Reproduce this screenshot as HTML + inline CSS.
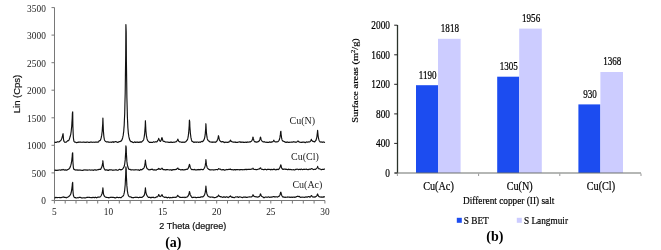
<!DOCTYPE html>
<html><head><meta charset="utf-8"><title>Figure</title>
<style>
html,body{margin:0;padding:0;background:#fff;}
body{width:661px;height:250px;overflow:hidden;}
svg{display:block;}
text{fill:#222;}
.ta{font-family:"Liberation Serif",serif;font-size:9.9px;}
.tl{font-family:"Liberation Serif",serif;font-size:10px;}
.te{font-family:"Liberation Serif",serif;font-size:10.4px;fill:#000;stroke:#000;stroke-width:0.2px;}
.sa{font-family:"Liberation Sans",sans-serif;font-size:9px;fill:#111;stroke:#111;stroke-width:0.2px;}
.cap{font-family:"Liberation Serif",serif;font-size:14px;font-weight:bold;fill:#000;}
.tb{font-family:"Liberation Serif",serif;font-size:12.6px;fill:#000;stroke:#000;stroke-width:0.25px;}
.tc{font-family:"Liberation Serif",serif;font-size:12.6px;fill:#000;stroke:#000;stroke-width:0.2px;}
.td{font-family:"Liberation Serif",serif;font-size:11px;fill:#000;stroke:#000;stroke-width:0.2px;}
</style></head><body>
<svg width="661" height="250" viewBox="0 0 661 250">
<rect width="661" height="250" fill="#fff"/>
<path d="M54.5 7.5V200.5H325" fill="none" stroke="#787878" stroke-width="1"/>
<path d="M51.5 200.4H54.5" stroke="#787878" stroke-width="1"/>
<path d="M51.5 172.9H54.5" stroke="#787878" stroke-width="1"/>
<path d="M51.5 145.3H54.5" stroke="#787878" stroke-width="1"/>
<path d="M51.5 117.8H54.5" stroke="#787878" stroke-width="1"/>
<path d="M51.5 90.2H54.5" stroke="#787878" stroke-width="1"/>
<path d="M51.5 62.7H54.5" stroke="#787878" stroke-width="1"/>
<path d="M51.5 35.1H54.5" stroke="#787878" stroke-width="1"/>
<path d="M51.5 7.6H54.5" stroke="#787878" stroke-width="1"/>
<path d="M54.4 200.5V203.5" stroke="#787878" stroke-width="1"/>
<path d="M65.2 200.5V203.5" stroke="#787878" stroke-width="1"/>
<path d="M76.0 200.5V203.5" stroke="#787878" stroke-width="1"/>
<path d="M86.9 200.5V203.5" stroke="#787878" stroke-width="1"/>
<path d="M97.7 200.5V203.5" stroke="#787878" stroke-width="1"/>
<path d="M108.5 200.5V203.5" stroke="#787878" stroke-width="1"/>
<path d="M119.3 200.5V203.5" stroke="#787878" stroke-width="1"/>
<path d="M130.1 200.5V203.5" stroke="#787878" stroke-width="1"/>
<path d="M141.0 200.5V203.5" stroke="#787878" stroke-width="1"/>
<path d="M151.8 200.5V203.5" stroke="#787878" stroke-width="1"/>
<path d="M162.6 200.5V203.5" stroke="#787878" stroke-width="1"/>
<path d="M173.4 200.5V203.5" stroke="#787878" stroke-width="1"/>
<path d="M184.2 200.5V203.5" stroke="#787878" stroke-width="1"/>
<path d="M195.1 200.5V203.5" stroke="#787878" stroke-width="1"/>
<path d="M205.9 200.5V203.5" stroke="#787878" stroke-width="1"/>
<path d="M216.7 200.5V203.5" stroke="#787878" stroke-width="1"/>
<path d="M227.5 200.5V203.5" stroke="#787878" stroke-width="1"/>
<path d="M238.3 200.5V203.5" stroke="#787878" stroke-width="1"/>
<path d="M249.2 200.5V203.5" stroke="#787878" stroke-width="1"/>
<path d="M260.0 200.5V203.5" stroke="#787878" stroke-width="1"/>
<path d="M270.8 200.5V203.5" stroke="#787878" stroke-width="1"/>
<path d="M281.6 200.5V203.5" stroke="#787878" stroke-width="1"/>
<path d="M292.4 200.5V203.5" stroke="#787878" stroke-width="1"/>
<path d="M303.3 200.5V203.5" stroke="#787878" stroke-width="1"/>
<path d="M314.1 200.5V203.5" stroke="#787878" stroke-width="1"/>
<path d="M324.9 200.5V203.5" stroke="#787878" stroke-width="1"/>
<polyline points="54.4,142.0 54.6,142.1 54.9,142.1 55.1,142.3 55.4,142.4 55.6,142.4 55.9,142.2 56.1,142.2 56.4,142.3 56.6,142.2 56.9,142.1 57.1,141.9 57.4,141.8 57.6,141.7 57.9,141.8 58.1,141.9 58.4,141.9 58.6,142.0 58.9,142.0 59.1,141.9 59.4,141.5 59.6,141.4 59.9,141.3 60.1,141.0 60.4,140.8 60.6,140.7 60.9,140.4 61.1,140.0 61.4,139.4 61.6,138.8 61.9,138.2 62.1,137.4 62.4,136.5 62.6,135.5 62.9,134.1 63.1,133.7 63.4,138.0 63.6,140.1 63.9,141.1 64.2,141.6 64.4,141.8 64.7,142.2 64.9,142.3 65.2,142.2 65.4,142.3 65.7,142.2 65.9,142.2 66.2,142.1 66.4,141.9 66.7,141.7 66.9,141.5 67.2,141.1 67.4,140.8 67.7,140.8 67.9,140.6 68.2,140.7 68.4,140.6 68.7,140.6 68.9,140.0 69.2,139.6 69.4,138.9 69.7,138.1 69.9,137.3 70.2,136.6 70.4,135.7 70.7,134.6 70.9,133.3 71.2,131.3 71.4,129.2 71.7,126.5 71.9,123.0 72.2,118.6 72.4,113.2 72.7,111.8 72.9,126.5 73.2,133.9 73.4,138.0 73.7,139.9 73.9,141.1 74.2,141.7 74.4,141.9 74.7,142.0 74.9,142.2 75.2,142.0 75.4,142.1 75.7,142.2 75.9,142.4 76.2,142.5 76.4,142.7 76.7,142.7 76.9,142.7 77.2,142.4 77.4,142.4 77.7,142.4 77.9,142.3 78.2,142.2 78.4,142.3 78.7,142.1 78.9,142.0 79.2,142.1 79.4,142.1 79.7,142.0 79.9,142.1 80.2,142.1 80.4,142.1 80.7,142.1 80.9,142.1 81.2,142.2 81.4,142.3 81.7,142.2 81.9,142.2 82.2,142.2 82.4,142.3 82.7,142.2 82.9,142.1 83.2,142.0 83.4,142.2 83.7,142.0 83.9,142.1 84.2,142.1 84.4,142.2 84.7,142.3 84.9,142.4 85.2,142.3 85.4,142.4 85.7,142.3 85.9,142.2 86.2,142.3 86.4,142.3 86.7,142.1 86.9,142.1 87.2,142.1 87.4,142.0 87.7,142.0 87.9,142.2 88.2,142.2 88.4,142.2 88.7,142.4 88.9,142.4 89.2,142.4 89.4,142.5 89.7,142.3 89.9,142.2 90.2,142.1 90.4,142.0 90.7,142.1 90.9,142.1 91.2,142.0 91.4,142.1 91.7,142.1 91.9,142.2 92.2,142.2 92.4,142.3 92.7,142.2 92.9,142.3 93.2,142.2 93.4,142.2 93.7,142.1 93.9,142.2 94.2,142.2 94.4,142.2 94.7,142.3 94.9,142.1 95.2,142.0 95.4,142.2 95.7,142.0 95.9,142.0 96.2,142.2 96.4,142.1 96.7,142.0 96.9,142.1 97.2,142.0 97.4,142.0 97.7,142.2 97.9,142.2 98.2,142.1 98.4,141.9 98.7,141.7 98.9,141.2 99.2,140.9 99.4,140.7 99.7,140.6 99.9,140.6 100.2,140.5 100.4,140.2 100.7,139.6 100.9,138.8 101.2,137.8 101.4,136.7 101.7,135.4 101.9,133.6 102.2,131.3 102.4,128.1 102.7,124.0 102.9,118.0 103.2,125.8 103.4,131.0 103.7,134.5 103.9,136.8 104.2,138.5 104.4,139.7 104.7,140.4 104.9,140.8 105.2,141.0 105.4,141.2 105.7,141.4 105.9,141.5 106.2,141.7 106.4,142.0 106.7,142.0 106.9,142.0 107.2,141.9 107.4,141.9 107.7,141.9 107.9,141.9 108.2,141.9 108.4,142.1 108.7,142.1 108.9,142.1 109.2,142.2 109.4,142.3 109.7,142.2 109.9,142.2 110.2,142.0 110.4,142.2 110.7,142.2 110.9,142.2 111.2,142.3 111.4,142.3 111.7,142.0 111.9,142.0 112.2,142.1 112.4,141.8 112.7,141.8 112.9,141.9 113.2,141.9 113.4,141.9 113.7,142.3 113.9,142.3 114.2,142.1 114.4,142.0 114.7,142.0 114.9,141.7 115.2,141.5 115.4,141.7 115.7,141.6 115.9,141.6 116.2,141.7 116.4,141.7 116.7,141.9 116.9,142.2 117.2,142.2 117.4,142.3 117.7,142.5 117.9,142.3 118.2,142.3 118.4,142.0 118.7,141.9 118.9,141.8 119.2,141.6 119.4,141.5 119.7,141.6 119.9,141.6 120.2,141.3 120.4,141.5 120.7,141.2 120.9,141.1 121.2,141.0 121.4,140.8 121.7,140.4 121.9,139.9 122.2,139.3 122.4,138.5 122.7,137.7 122.9,136.5 123.2,135.4 123.4,133.7 123.7,131.6 123.9,128.8 124.2,125.1 124.4,120.0 124.7,113.7 124.9,104.8 125.2,93.0 125.4,77.1 125.7,55.2 125.9,24.5 126.2,32.2 126.4,61.6 126.7,82.7 126.9,97.9 127.2,109.1 127.4,117.3 127.7,123.6 127.9,128.0 128.2,131.4 128.4,133.7 128.7,135.4 128.9,136.9 129.2,138.1 129.4,139.0 129.7,139.7 129.9,140.4 130.2,140.8 130.4,141.1 130.7,141.3 130.9,141.7 131.2,141.6 131.4,141.6 131.7,141.6 131.9,141.8 132.2,141.8 132.4,142.0 132.7,142.3 132.9,142.3 133.2,142.5 133.4,142.5 133.7,142.6 133.9,142.2 134.2,142.2 134.4,142.0 134.7,141.9 134.9,141.9 135.2,142.3 135.4,142.4 135.7,142.4 135.9,142.5 136.2,142.3 136.4,142.0 136.7,142.1 136.9,142.1 137.2,142.0 137.4,142.1 137.7,142.3 137.9,142.2 138.2,142.3 138.4,142.4 138.7,142.5 138.9,142.2 139.2,142.4 139.4,142.3 139.7,142.2 139.9,141.9 140.2,142.1 140.4,141.8 140.7,142.1 140.9,142.2 141.2,142.2 141.4,142.1 141.7,142.0 141.9,141.6 142.2,141.4 142.4,141.2 142.7,140.8 142.9,140.7 143.2,140.5 143.4,140.1 143.7,139.4 143.9,138.5 144.2,137.0 144.4,135.4 144.7,133.3 144.9,130.3 145.2,126.3 145.4,120.7 145.7,126.5 145.9,130.5 146.2,133.6 146.4,135.6 146.7,137.2 146.9,138.2 147.2,139.3 147.4,139.9 147.7,140.5 147.9,140.9 148.2,141.2 148.4,141.4 148.7,141.7 148.9,141.9 149.2,142.0 149.4,142.4 149.7,142.3 149.9,142.4 150.2,142.4 150.4,142.5 150.7,142.3 150.9,142.4 151.2,142.3 151.4,142.3 151.7,142.3 151.9,142.5 152.2,142.5 152.4,142.5 152.7,142.4 152.9,142.2 153.2,141.9 153.4,141.8 153.7,141.9 153.9,142.0 154.2,142.1 154.4,142.0 154.7,142.1 154.9,142.0 155.2,141.9 155.4,141.8 155.7,141.8 155.9,141.7 156.2,141.8 156.4,141.8 156.7,141.9 156.9,141.8 157.2,141.5 157.4,141.1 157.7,140.7 157.9,140.3 158.2,139.8 158.4,139.3 158.7,138.4 158.9,138.9 159.2,139.7 159.4,140.4 159.7,140.7 159.9,140.9 160.2,141.3 160.4,141.3 160.7,141.0 160.9,140.6 161.2,140.2 161.4,139.4 161.7,138.5 161.9,137.6 162.2,138.0 162.4,139.1 162.7,140.0 162.9,140.8 163.2,141.1 163.4,141.3 163.7,141.4 163.9,141.4 164.2,141.5 164.4,141.4 164.7,141.5 164.9,141.8 165.2,141.9 165.4,141.9 165.7,142.1 165.9,142.2 166.2,142.0 166.4,142.0 166.7,142.0 166.9,142.0 167.2,142.0 167.4,142.1 167.7,142.0 167.9,142.0 168.2,142.2 168.4,142.3 168.7,142.4 168.9,142.5 169.2,142.3 169.4,142.3 169.7,142.3 169.9,142.3 170.2,142.3 170.4,142.3 170.7,142.1 170.9,142.2 171.2,142.1 171.4,142.1 171.7,142.3 171.9,142.5 172.2,142.5 172.4,142.5 172.7,142.3 172.9,142.2 173.2,142.1 173.4,142.2 173.7,142.2 173.9,142.3 174.2,142.3 174.4,142.2 174.7,142.0 174.9,142.0 175.2,142.0 175.4,141.9 175.7,141.8 175.9,141.9 176.2,141.8 176.4,141.4 176.7,141.3 176.9,141.0 177.2,140.5 177.4,140.2 177.7,139.4 177.9,139.2 178.2,140.1 178.4,140.6 178.7,141.1 178.9,141.3 179.2,141.6 179.4,141.7 179.7,141.9 179.9,141.8 180.2,141.9 180.4,142.0 180.7,142.0 180.9,142.0 181.2,142.1 181.4,142.2 181.7,142.3 181.9,142.4 182.2,142.3 182.4,142.3 182.7,142.1 182.9,142.0 183.2,142.0 183.4,142.2 183.7,142.3 183.9,142.3 184.2,142.4 184.4,142.3 184.7,142.0 184.9,142.0 185.2,142.1 185.4,142.0 185.7,141.6 185.9,141.6 186.2,141.3 186.4,141.0 186.7,140.7 186.9,140.5 187.2,140.1 187.4,139.6 187.7,138.9 187.9,138.0 188.2,136.7 188.4,134.9 188.7,132.7 188.9,129.7 189.2,125.6 189.4,120.0 189.7,121.6 189.9,127.0 190.2,130.9 190.4,133.7 190.7,135.7 190.9,137.4 191.2,138.7 191.4,139.7 191.7,140.5 191.9,141.2 192.2,141.4 192.4,141.5 192.7,141.6 192.9,141.8 193.2,141.9 193.4,142.1 193.7,142.1 193.9,142.3 194.2,142.3 194.4,142.1 194.7,142.0 194.9,142.2 195.2,142.0 195.4,142.1 195.7,142.1 195.9,142.0 196.2,142.1 196.4,142.3 196.7,142.2 196.9,142.1 197.2,142.1 197.4,142.0 197.7,142.0 197.9,142.1 198.2,142.1 198.4,142.2 198.7,142.4 198.9,142.3 199.2,142.2 199.4,142.1 199.7,142.2 199.9,142.0 200.2,142.1 200.4,142.2 200.7,142.3 200.9,142.0 201.2,141.7 201.4,141.6 201.7,141.4 201.9,141.3 202.2,141.4 202.4,141.6 202.7,141.6 202.9,141.3 203.2,141.1 203.4,140.6 203.7,140.4 203.9,139.7 204.2,139.3 204.4,138.6 204.7,137.6 204.9,136.4 205.2,134.7 205.4,132.1 205.7,128.6 205.9,123.7 206.2,128.7 206.4,132.2 206.7,134.9 206.9,136.7 207.2,138.2 207.4,139.0 207.7,139.7 207.9,140.2 208.2,140.5 208.4,140.7 208.7,140.9 208.9,141.1 209.2,141.3 209.4,141.6 209.7,141.8 209.9,141.9 210.2,141.9 210.4,142.0 210.7,142.0 210.9,142.1 211.2,142.0 211.4,142.2 211.7,142.1 211.9,142.2 212.2,142.1 212.4,142.3 212.7,142.1 212.9,142.1 213.2,142.1 213.4,142.1 213.7,142.1 213.9,142.2 214.2,142.1 214.4,142.1 214.7,142.1 214.9,142.0 215.2,142.1 215.4,142.3 215.7,142.1 215.9,141.9 216.2,141.9 216.4,141.7 216.7,141.2 216.9,140.9 217.2,140.7 217.4,139.8 217.7,139.2 217.9,138.5 218.2,137.3 218.4,135.7 218.7,136.3 218.9,138.0 219.2,139.0 219.4,140.0 219.7,140.3 219.9,140.8 220.2,140.9 220.4,141.3 220.7,141.3 220.9,141.7 221.2,141.8 221.4,141.9 221.7,141.9 221.9,142.0 222.2,141.5 222.4,141.6 222.7,141.6 222.9,141.6 223.2,141.6 223.4,142.1 223.7,142.0 223.9,142.1 224.2,142.3 224.4,142.6 224.7,142.4 224.9,142.5 225.2,142.5 225.4,142.2 225.7,142.1 225.9,142.1 226.2,142.3 226.4,142.2 226.7,142.2 226.9,142.2 227.2,142.4 227.4,142.3 227.7,142.2 227.9,142.3 228.2,142.3 228.4,142.1 228.7,141.9 228.9,142.0 229.2,141.9 229.4,141.8 229.7,141.6 229.9,141.3 230.2,140.8 230.4,140.1 230.7,140.5 230.9,140.9 231.2,141.3 231.4,141.5 231.7,141.6 231.9,141.7 232.2,141.8 232.4,141.9 232.7,142.0 232.9,142.0 233.2,142.1 233.4,142.0 233.7,142.2 233.9,142.2 234.2,142.1 234.4,142.2 234.7,142.1 234.9,142.0 235.2,142.0 235.4,142.3 235.7,142.1 235.9,142.3 236.2,142.4 236.4,142.3 236.7,142.3 236.9,142.4 237.2,142.5 237.4,142.4 237.7,142.4 237.9,142.3 238.2,142.1 238.4,142.0 238.7,142.0 238.9,142.1 239.2,141.9 239.4,141.9 239.7,142.0 239.9,142.0 240.2,141.8 240.4,142.2 240.7,142.3 240.9,142.1 241.2,142.2 241.4,142.3 241.7,142.0 241.9,142.0 242.2,142.0 242.4,142.0 242.7,142.2 242.9,142.3 243.2,142.2 243.4,142.4 243.7,142.2 243.9,142.3 244.2,142.4 244.4,142.5 244.7,142.4 244.9,142.4 245.2,142.2 245.4,142.2 245.7,142.1 245.9,142.1 246.2,142.3 246.4,142.5 246.7,142.3 246.9,142.2 247.2,142.3 247.4,142.1 247.7,141.9 247.9,142.0 248.2,142.0 248.4,142.1 248.7,142.2 248.9,142.2 249.2,142.0 249.4,142.0 249.7,141.8 249.9,141.8 250.2,141.7 250.4,141.9 250.7,141.7 250.9,141.6 251.2,141.4 251.4,141.2 251.7,140.9 251.9,140.5 252.2,140.1 252.4,139.4 252.7,138.4 252.9,137.1 253.2,137.6 253.4,138.9 253.7,139.7 253.9,140.5 254.2,141.1 254.4,141.3 254.7,141.6 254.9,141.8 255.2,141.8 255.4,141.7 255.7,141.9 255.9,141.8 256.1,142.1 256.4,142.1 256.6,142.2 256.9,142.2 257.1,141.9 257.4,141.8 257.6,141.9 257.9,141.8 258.1,141.6 258.4,141.7 258.6,141.6 258.9,141.2 259.1,140.8 259.4,140.7 259.6,140.2 259.9,139.4 260.1,138.5 260.4,137.1 260.6,137.1 260.9,138.5 261.1,139.4 261.4,140.1 261.6,140.5 261.9,141.0 262.1,141.0 262.4,141.4 262.6,141.6 262.9,141.7 263.1,141.8 263.4,142.0 263.6,142.0 263.9,141.8 264.1,141.8 264.4,141.8 264.6,141.7 264.9,141.9 265.1,142.1 265.4,142.2 265.6,142.2 265.9,142.3 266.1,142.1 266.4,142.2 266.6,142.3 266.9,142.4 267.1,142.2 267.4,142.4 267.6,142.3 267.9,142.3 268.1,142.3 268.4,142.5 268.6,142.4 268.9,142.3 269.1,142.1 269.4,142.1 269.6,141.8 269.9,141.9 270.1,142.2 270.4,142.3 270.6,142.2 270.9,142.3 271.1,142.3 271.4,142.0 271.6,141.8 271.9,141.9 272.1,141.9 272.4,141.9 272.6,141.8 272.9,141.7 273.1,141.4 273.4,141.0 273.6,140.3 273.9,140.2 274.1,140.6 274.4,141.1 274.6,141.4 274.9,141.7 275.1,141.9 275.4,142.0 275.6,141.8 275.9,141.8 276.1,141.9 276.4,141.9 276.6,141.8 276.9,141.9 277.1,141.9 277.4,141.8 277.6,141.7 277.9,141.6 278.1,141.4 278.4,141.3 278.6,140.9 278.9,140.6 279.1,140.2 279.4,139.6 279.6,138.7 279.9,137.7 280.1,136.2 280.4,134.4 280.6,131.8 280.9,131.3 281.1,134.3 281.4,136.4 281.6,137.9 281.9,139.2 282.1,139.9 282.4,140.5 282.6,140.9 282.9,141.0 283.1,141.0 283.4,141.2 283.6,141.3 283.9,141.5 284.1,141.6 284.4,141.8 284.6,141.7 284.9,141.9 285.1,141.9 285.4,142.2 285.6,142.2 285.9,142.5 286.1,142.4 286.4,142.4 286.6,142.0 286.9,142.0 287.1,141.9 287.4,142.1 287.6,142.0 287.9,142.3 288.1,142.3 288.4,142.4 288.6,142.3 288.9,142.4 289.1,142.2 289.4,142.3 289.6,142.2 289.9,142.3 290.1,142.2 290.4,142.2 290.6,142.2 290.9,142.1 291.1,142.1 291.4,142.1 291.6,142.1 291.9,142.1 292.1,142.1 292.4,142.0 292.6,142.1 292.9,142.0 293.1,141.8 293.4,141.9 293.6,141.9 293.9,141.6 294.1,141.9 294.4,142.0 294.6,142.0 294.9,142.1 295.1,142.2 295.4,142.1 295.6,142.2 295.9,142.3 296.1,142.3 296.4,142.2 296.6,142.1 296.9,141.9 297.1,141.7 297.4,141.4 297.6,141.2 297.9,141.0 298.1,141.1 298.4,141.3 298.6,141.6 298.9,141.9 299.1,141.9 299.4,142.0 299.6,142.1 299.9,142.3 300.1,142.2 300.4,142.2 300.6,142.3 300.9,142.3 301.1,142.3 301.4,142.4 301.6,142.3 301.9,142.2 302.1,142.3 302.4,142.1 302.6,142.2 302.9,142.3 303.1,142.2 303.4,142.0 303.6,142.1 303.9,142.1 304.1,142.0 304.4,142.2 304.6,142.4 304.9,142.5 305.1,142.7 305.4,142.6 305.6,142.4 305.9,142.2 306.1,142.0 306.4,141.8 306.6,142.0 306.9,142.1 307.1,142.2 307.4,142.2 307.6,142.1 307.9,142.0 308.1,141.9 308.4,141.9 308.6,141.9 308.9,142.1 309.1,142.0 309.4,142.0 309.6,141.9 309.9,141.8 310.1,141.4 310.4,141.3 310.6,141.0 310.9,140.6 311.1,140.0 311.4,139.3 311.6,140.0 311.9,140.4 312.1,140.7 312.4,140.9 312.6,141.3 312.9,141.3 313.1,141.3 313.4,141.5 313.6,141.6 313.9,141.6 314.1,141.7 314.4,141.9 314.6,141.6 314.9,141.7 315.1,141.3 315.4,141.1 315.6,140.7 315.9,140.5 316.1,139.7 316.4,139.1 316.6,138.2 316.9,136.8 317.1,135.0 317.4,132.5 317.6,130.4 317.9,133.6 318.1,135.8 318.4,137.5 318.6,138.6 318.9,139.7 319.1,140.2 319.4,140.9 319.6,141.3 319.9,141.8 320.1,141.8 320.4,142.0 320.6,142.0 320.9,142.1 321.1,141.9 321.4,142.0 321.6,142.0 321.9,142.1 322.1,142.2 322.4,142.3 322.6,142.1 322.9,142.2 323.1,142.0 323.4,142.0 323.6,141.9 323.9,142.2 324.1,142.2 324.4,142.4 324.6,142.3 324.9,142.5" fill="none" stroke="#111" stroke-width="1.15" stroke-linejoin="round"/>
<polyline points="54.4,170.0 54.6,170.1 54.9,170.0 55.1,170.0 55.4,170.1 55.6,170.3 55.9,170.3 56.1,170.5 56.4,170.3 56.6,170.4 56.9,170.4 57.1,170.1 57.4,170.2 57.6,170.3 57.9,170.2 58.1,170.2 58.4,170.2 58.6,170.0 58.9,170.1 59.1,170.0 59.4,169.9 59.6,170.0 59.9,170.0 60.1,170.1 60.4,170.1 60.6,170.2 60.9,170.1 61.1,169.9 61.4,169.7 61.6,169.8 61.9,169.8 62.1,169.8 62.4,169.8 62.6,169.8 62.9,169.7 63.1,169.4 63.4,169.6 63.6,169.8 63.9,169.9 64.2,169.9 64.4,170.1 64.7,170.0 64.9,169.9 65.2,169.8 65.4,169.8 65.7,170.1 65.9,169.9 66.2,170.1 66.4,170.1 66.7,170.1 66.9,169.9 67.2,170.0 67.4,169.8 67.7,169.7 67.9,169.5 68.2,169.4 68.4,169.2 68.7,169.1 68.9,168.9 69.2,168.7 69.4,168.3 69.7,168.1 69.9,167.6 70.2,167.1 70.4,166.4 70.7,165.7 70.9,164.8 71.2,163.8 71.4,162.4 71.7,161.0 71.9,159.1 72.2,156.6 72.4,153.4 72.7,152.8 72.9,161.3 73.2,165.5 73.4,167.8 73.7,168.8 73.9,169.4 74.2,169.7 74.4,169.6 74.7,169.5 74.9,169.7 75.2,169.8 75.4,169.9 75.7,170.1 75.9,170.2 76.2,170.0 76.4,170.0 76.7,169.9 76.9,169.9 77.2,169.9 77.4,170.1 77.7,170.2 77.9,170.1 78.2,170.2 78.4,170.2 78.7,170.1 78.9,169.9 79.2,170.0 79.4,170.1 79.7,170.1 79.9,170.0 80.2,170.1 80.4,170.1 80.7,170.0 80.9,170.1 81.2,170.2 81.4,170.2 81.7,170.2 81.9,170.5 82.2,170.4 82.4,170.3 82.7,170.3 82.9,170.4 83.2,170.2 83.4,170.1 83.7,170.0 83.9,169.9 84.2,169.8 84.4,169.9 84.7,170.0 84.9,170.0 85.2,170.1 85.4,170.0 85.7,169.9 85.9,169.9 86.2,169.9 86.4,170.0 86.7,170.1 86.9,170.2 87.2,170.1 87.4,170.2 87.7,170.1 87.9,170.1 88.2,170.0 88.4,170.0 88.7,170.0 88.9,170.0 89.2,169.9 89.4,169.9 89.7,170.0 89.9,170.0 90.2,170.0 90.4,170.1 90.7,170.2 90.9,170.1 91.2,170.2 91.4,170.0 91.7,170.0 91.9,169.9 92.2,169.9 92.4,170.0 92.7,170.2 92.9,170.2 93.2,170.3 93.4,170.3 93.7,170.0 93.9,169.9 94.2,169.9 94.4,169.9 94.7,169.8 94.9,170.0 95.2,169.9 95.4,169.8 95.7,169.8 95.9,170.1 96.2,170.1 96.4,170.1 96.7,170.1 96.9,170.0 97.2,169.8 97.4,169.7 97.7,169.8 97.9,169.7 98.2,169.6 98.4,169.7 98.7,169.6 98.9,169.4 99.2,169.3 99.4,169.3 99.7,169.3 99.9,169.3 100.2,169.4 100.4,169.3 100.7,169.3 100.9,168.7 101.2,168.4 101.4,167.7 101.7,167.3 101.9,166.5 102.2,165.6 102.4,164.4 102.7,162.9 102.9,160.7 103.2,164.0 103.4,166.1 103.7,167.2 103.9,167.9 104.2,168.5 104.4,169.1 104.7,169.4 104.9,169.9 105.2,170.1 105.4,170.2 105.7,169.8 105.9,170.0 106.2,169.9 106.4,169.7 106.7,169.7 106.9,170.1 107.2,169.8 107.4,170.0 107.7,170.3 107.9,170.4 108.2,170.3 108.4,170.4 108.7,170.2 108.9,169.8 109.2,169.7 109.4,169.8 109.7,169.9 109.9,169.8 110.2,169.9 110.4,170.0 110.7,169.8 110.9,169.7 111.2,169.7 111.4,169.8 111.7,169.9 111.9,170.0 112.2,170.2 112.4,170.3 112.7,170.2 112.9,170.0 113.2,170.1 113.4,170.1 113.7,170.1 113.9,170.1 114.2,170.2 114.4,170.0 114.7,170.0 114.9,170.0 115.2,169.9 115.4,169.9 115.7,169.9 115.9,170.0 116.2,169.8 116.4,169.8 116.7,169.9 116.9,170.1 117.2,170.2 117.4,170.2 117.7,170.3 117.9,170.2 118.2,170.1 118.4,169.9 118.7,169.7 118.9,169.6 119.2,169.4 119.4,169.3 119.7,169.3 119.9,169.5 120.2,169.6 120.4,169.7 120.7,169.6 120.9,169.9 121.2,169.8 121.4,169.6 121.7,169.5 121.9,169.6 122.2,169.4 122.4,169.2 122.7,168.9 122.9,168.7 123.2,168.2 123.4,167.8 123.7,167.4 123.9,167.0 124.2,166.3 124.4,165.5 124.7,164.1 124.9,162.3 125.2,159.9 125.4,156.6 125.7,152.1 125.9,145.8 126.2,147.7 126.4,153.9 126.7,158.2 126.9,161.4 127.2,163.7 127.4,165.1 127.7,166.2 127.9,167.1 128.2,167.8 128.4,168.4 128.7,168.9 128.9,169.2 129.2,169.4 129.4,169.5 129.7,169.4 129.9,169.5 130.2,169.4 130.4,169.7 130.7,169.7 130.9,169.9 131.2,169.9 131.4,169.8 131.7,169.8 131.9,169.8 132.2,169.7 132.4,169.7 132.7,169.8 132.9,169.8 133.2,169.9 133.4,169.9 133.7,170.0 133.9,170.0 134.2,170.0 134.4,169.9 134.7,169.9 134.9,170.0 135.2,169.8 135.4,169.7 135.7,169.8 135.9,169.7 136.2,169.7 136.4,169.7 136.7,169.8 136.9,169.8 137.2,170.0 137.4,170.0 137.7,170.0 137.9,169.9 138.2,170.0 138.4,169.8 138.7,170.0 138.9,170.1 139.2,170.4 139.4,170.4 139.7,170.3 139.9,169.9 140.2,169.9 140.4,169.6 140.7,169.4 140.9,169.6 141.2,169.9 141.4,169.6 141.7,169.6 141.9,169.7 142.2,169.5 142.4,169.2 142.7,169.1 142.9,168.8 143.2,168.6 143.4,168.6 143.7,168.3 143.9,167.9 144.2,167.5 144.4,166.7 144.7,165.7 144.9,164.4 145.2,162.6 145.4,160.1 145.7,162.8 145.9,164.6 146.2,165.9 146.4,167.0 146.7,167.7 146.9,168.3 147.2,168.5 147.4,168.9 147.7,169.0 147.9,169.1 148.2,169.2 148.4,169.6 148.7,169.7 148.9,169.7 149.2,169.9 149.4,169.8 149.7,169.7 149.9,169.6 150.2,169.6 150.4,169.5 150.7,169.7 150.9,169.4 151.2,169.4 151.4,169.3 151.7,169.3 151.9,169.2 152.2,169.5 152.4,169.3 152.7,169.3 152.9,169.8 153.2,169.8 153.4,169.9 153.7,170.0 153.9,170.1 154.2,169.8 154.4,169.8 154.7,169.8 154.9,169.7 155.2,169.9 155.4,169.9 155.7,170.1 155.9,170.0 156.2,170.1 156.4,169.9 156.7,169.8 156.9,169.5 157.2,169.4 157.4,169.3 157.7,169.4 157.9,169.3 158.2,169.3 158.4,168.9 158.7,168.4 158.9,168.6 159.2,168.7 159.4,168.8 159.7,169.3 159.9,169.3 160.2,169.1 160.4,169.3 160.7,169.3 160.9,169.0 161.2,169.0 161.4,168.9 161.7,168.6 161.9,168.1 162.2,168.4 162.4,168.8 162.7,169.0 162.9,169.5 163.2,169.6 163.4,169.7 163.7,169.6 163.9,169.7 164.2,169.6 164.4,169.6 164.7,169.7 164.9,169.8 165.2,169.7 165.4,169.9 165.7,170.0 165.9,169.8 166.2,169.7 166.4,169.8 166.7,169.6 166.9,169.5 167.2,169.5 167.4,169.5 167.7,169.7 167.9,169.8 168.2,169.7 168.4,169.7 168.7,169.8 168.9,169.7 169.2,169.7 169.4,169.9 169.7,170.0 169.9,170.1 170.2,169.9 170.4,169.8 170.7,169.7 170.9,169.8 171.2,169.9 171.4,170.1 171.7,170.1 171.9,170.3 172.2,170.1 172.4,169.8 172.7,169.7 172.9,169.8 173.2,169.5 173.4,169.5 173.7,169.7 173.9,169.7 174.2,169.6 174.4,169.7 174.7,169.7 174.9,169.6 175.2,169.5 175.4,169.6 175.7,169.4 175.9,169.4 176.2,169.3 176.4,169.3 176.7,168.9 176.9,168.8 177.2,168.7 177.4,168.4 177.7,168.0 177.9,168.1 178.2,168.7 178.4,169.1 178.7,169.4 178.9,169.4 179.2,169.4 179.4,169.3 179.7,169.3 179.9,169.4 180.2,169.6 180.4,169.7 180.7,169.9 180.9,169.8 181.2,169.9 181.4,169.8 181.7,169.7 181.9,169.6 182.2,169.8 182.4,169.6 182.7,169.7 182.9,169.6 183.2,169.9 183.4,169.8 183.7,169.8 183.9,169.9 184.2,169.8 184.4,169.8 184.7,169.7 184.9,169.8 185.2,169.5 185.4,169.6 185.7,169.5 185.9,169.5 186.2,169.3 186.4,169.4 186.7,169.3 186.9,169.1 187.2,169.2 187.4,169.3 187.7,168.9 187.9,168.8 188.2,168.4 188.4,167.8 188.7,167.1 188.9,166.6 189.2,165.5 189.4,164.3 189.7,164.9 189.9,166.0 190.2,167.0 190.4,167.7 190.7,168.2 190.9,168.5 191.2,169.0 191.4,169.4 191.7,169.6 191.9,169.6 192.2,169.5 192.4,169.6 192.7,169.5 192.9,169.4 193.2,169.6 193.4,169.7 193.7,169.8 193.9,169.5 194.2,169.7 194.4,169.5 194.7,169.4 194.9,169.6 195.2,169.9 195.4,169.8 195.7,169.9 195.9,169.9 196.2,169.9 196.4,169.9 196.7,169.8 196.9,169.8 197.2,169.9 197.4,169.8 197.7,169.5 197.9,169.7 198.2,169.8 198.4,169.6 198.7,169.4 198.9,169.5 199.2,169.6 199.4,169.6 199.7,169.6 199.9,169.8 200.2,169.8 200.4,169.7 200.7,169.4 200.9,169.4 201.2,169.4 201.4,169.4 201.7,169.5 201.9,169.6 202.2,169.6 202.4,169.7 202.7,169.7 202.9,169.6 203.2,169.7 203.4,169.5 203.7,169.0 203.9,168.6 204.2,168.3 204.4,167.9 204.7,167.3 204.9,166.7 205.2,165.7 205.4,164.3 205.7,162.4 205.9,159.5 206.2,162.3 206.4,164.4 206.7,165.8 206.9,166.5 207.2,167.5 207.4,168.0 207.7,168.4 207.9,168.6 208.2,168.8 208.4,169.1 208.7,169.2 208.9,169.4 209.2,169.5 209.4,169.7 209.7,169.6 209.9,169.8 210.2,169.8 210.4,169.8 210.7,169.8 210.9,169.9 211.2,169.7 211.4,169.7 211.7,169.8 211.9,169.7 212.2,169.7 212.4,169.7 212.7,169.8 212.9,169.9 213.2,169.9 213.4,169.9 213.7,170.1 213.9,170.0 214.2,169.8 214.4,169.9 214.7,169.8 214.9,169.7 215.2,169.7 215.4,169.8 215.7,169.7 215.9,169.5 216.2,169.5 216.4,169.5 216.7,169.5 216.9,169.6 217.2,169.8 217.4,169.7 217.7,169.7 217.9,169.4 218.2,169.1 218.4,168.7 218.7,168.6 218.9,169.0 219.2,169.0 219.4,169.0 219.7,169.1 219.9,169.1 220.2,169.1 220.4,169.2 220.7,169.5 220.9,169.7 221.2,169.7 221.4,169.8 221.7,169.8 221.9,169.9 222.2,169.8 222.4,169.8 222.7,169.6 222.9,169.6 223.2,169.6 223.4,169.5 223.7,169.6 223.9,169.9 224.2,169.9 224.4,170.1 224.7,170.1 224.9,170.1 225.2,169.9 225.4,170.0 225.7,169.9 225.9,169.9 226.2,169.7 226.4,169.6 226.7,169.4 226.9,169.5 227.2,169.5 227.4,169.6 227.7,169.7 227.9,169.6 228.2,169.5 228.4,169.4 228.7,169.4 228.9,169.4 229.2,169.5 229.4,169.4 229.7,169.5 229.9,169.3 230.2,169.2 230.4,169.0 230.7,169.3 230.9,169.5 231.2,169.6 231.4,169.5 231.7,169.6 231.9,169.5 232.2,169.6 232.4,169.7 232.7,169.7 232.9,169.8 233.2,170.0 233.4,169.9 233.7,169.9 233.9,169.7 234.2,169.7 234.4,169.5 234.7,169.5 234.9,169.7 235.2,170.0 235.4,169.8 235.7,169.9 235.9,169.8 236.2,169.6 236.4,169.5 236.7,169.6 236.9,169.5 237.2,169.6 237.4,169.7 237.7,169.7 237.9,169.5 238.2,169.5 238.4,169.6 238.7,169.7 238.9,169.7 239.2,169.8 239.4,169.9 239.7,169.7 239.9,169.5 240.2,169.5 240.4,169.5 240.7,169.7 240.9,169.8 241.2,169.7 241.4,169.5 241.7,169.6 241.9,169.5 242.2,169.5 242.4,169.6 242.7,169.9 242.9,169.7 243.2,169.7 243.4,169.7 243.7,169.7 243.9,169.5 244.2,169.6 244.4,169.7 244.7,169.6 244.9,169.4 245.2,169.6 245.4,169.5 245.7,169.3 245.9,169.3 246.2,169.6 246.4,169.4 246.7,169.4 246.9,169.6 247.2,169.5 247.4,169.4 247.7,169.5 247.9,169.5 248.2,169.3 248.4,169.4 248.7,169.4 248.9,169.3 249.2,169.4 249.4,169.4 249.7,169.4 249.9,169.4 250.2,169.4 250.4,169.3 250.7,169.3 250.9,169.2 251.2,169.2 251.4,169.1 251.7,169.2 251.9,169.1 252.2,169.0 252.4,168.9 252.7,168.5 252.9,168.2 253.2,168.3 253.4,168.8 253.7,169.2 253.9,169.4 254.2,169.5 254.4,169.5 254.7,169.5 254.9,169.4 255.2,169.3 255.4,169.5 255.7,169.5 255.9,169.7 256.1,169.6 256.4,169.6 256.6,169.6 256.9,169.7 257.1,169.5 257.4,169.5 257.6,169.5 257.9,169.3 258.1,169.2 258.4,169.2 258.6,169.1 258.9,168.9 259.1,168.9 259.4,169.0 259.6,168.8 259.9,168.6 260.1,168.2 260.4,167.8 260.6,167.9 260.9,168.3 261.1,168.7 261.4,169.2 261.6,169.2 261.9,169.3 262.1,169.4 262.4,169.5 262.6,169.4 262.9,169.5 263.1,169.5 263.4,169.7 263.6,169.6 263.9,169.7 264.1,169.7 264.4,169.4 264.6,169.4 264.9,169.4 265.1,169.2 265.4,169.2 265.6,169.2 265.9,169.4 266.1,169.5 266.4,169.7 266.6,169.8 266.9,169.8 267.1,169.5 267.4,169.4 267.6,169.4 267.9,169.4 268.1,169.4 268.4,169.5 268.6,169.4 268.9,169.5 269.1,169.3 269.4,169.3 269.6,169.5 269.9,169.5 270.1,169.4 270.4,169.8 270.6,169.7 270.9,169.6 271.1,169.6 271.4,169.6 271.6,169.3 271.9,169.4 272.1,169.5 272.4,169.6 272.6,169.6 272.9,169.6 273.1,169.4 273.4,169.4 273.6,169.2 273.9,169.1 274.1,169.3 274.4,169.5 274.6,169.5 274.9,169.3 275.1,169.6 275.4,169.7 275.6,169.8 275.9,169.8 276.1,169.8 276.4,169.5 276.6,169.5 276.9,169.3 277.1,169.3 277.4,169.3 277.6,169.3 277.9,169.4 278.1,169.6 278.4,169.5 278.6,169.3 278.9,169.2 279.1,168.7 279.4,168.4 279.6,168.0 279.9,167.6 280.1,167.0 280.4,166.3 280.6,165.0 280.9,164.9 281.1,166.0 281.4,167.1 281.6,167.7 281.9,168.4 282.1,168.7 282.4,169.1 282.6,169.2 282.9,169.4 283.1,169.2 283.4,169.3 283.6,169.3 283.9,169.1 284.1,169.1 284.4,169.1 284.6,169.1 284.9,169.0 285.1,169.1 285.4,169.1 285.6,169.3 285.9,169.2 286.1,169.4 286.4,169.3 286.6,169.3 286.9,169.2 287.1,169.5 287.4,169.6 287.6,169.7 287.9,169.6 288.1,169.6 288.4,169.3 288.6,169.1 288.9,169.1 289.1,169.4 289.4,169.5 289.6,169.6 289.9,169.7 290.1,169.6 290.4,169.4 290.6,169.4 290.9,169.6 291.1,169.6 291.4,169.6 291.6,169.7 291.9,169.8 292.1,169.7 292.4,169.7 292.6,169.8 292.9,169.7 293.1,169.7 293.4,169.6 293.6,169.7 293.9,169.8 294.1,169.9 294.4,169.9 294.6,170.0 294.9,169.9 295.1,169.8 295.4,169.6 295.6,169.4 295.9,169.5 296.1,169.4 296.4,169.3 296.6,169.2 296.9,169.3 297.1,169.1 297.4,169.2 297.6,169.2 297.9,169.2 298.1,169.3 298.4,169.6 298.6,169.6 298.9,169.5 299.1,169.5 299.4,169.4 299.6,169.3 299.9,169.3 300.1,169.4 300.4,169.7 300.6,169.4 300.9,169.3 301.1,169.3 301.4,169.2 301.6,169.1 301.9,169.3 302.1,169.4 302.4,169.6 302.6,169.7 302.9,169.5 303.1,169.4 303.4,169.4 303.6,169.3 303.9,169.4 304.1,169.2 304.4,169.4 304.6,169.3 304.9,169.3 305.1,169.3 305.4,169.3 305.6,169.2 305.9,169.2 306.1,169.3 306.4,169.1 306.6,169.2 306.9,169.3 307.1,169.5 307.4,169.5 307.6,169.6 307.9,169.7 308.1,169.6 308.4,169.7 308.6,169.5 308.9,169.2 309.1,169.2 309.4,169.3 309.6,169.1 309.9,169.1 310.1,169.2 310.4,169.3 310.6,169.1 310.9,169.1 311.1,169.0 311.4,168.6 311.6,168.7 311.9,168.7 312.1,168.7 312.4,168.8 312.6,169.0 312.9,169.2 313.1,169.4 313.4,169.5 313.6,169.5 313.9,169.6 314.1,169.5 314.4,169.4 314.6,169.2 314.9,169.2 315.1,169.3 315.4,169.4 315.6,169.1 315.9,169.0 316.1,168.9 316.4,168.5 316.6,168.2 316.9,168.1 317.1,167.7 317.4,167.0 317.6,166.4 317.9,167.2 318.1,167.7 318.4,168.2 318.6,168.5 318.9,168.8 319.1,168.9 319.4,168.8 319.6,168.8 319.9,168.8 320.1,169.0 320.4,169.0 320.6,169.3 320.9,169.4 321.1,169.7 321.4,169.6 321.6,169.7 321.9,169.6 322.1,169.5 322.4,169.4 322.6,169.4 322.9,169.3 323.1,169.4 323.4,169.4 323.6,169.3 323.9,169.3 324.1,169.1 324.4,169.1 324.6,169.1 324.9,169.2" fill="none" stroke="#111" stroke-width="1.15" stroke-linejoin="round"/>
<polyline points="54.4,197.9 54.6,197.9 54.9,198.0 55.1,197.8 55.4,197.7 55.6,197.4 55.9,197.5 56.1,197.4 56.4,197.5 56.6,197.5 56.9,197.7 57.1,197.5 57.4,197.5 57.6,197.6 57.9,197.6 58.1,197.5 58.4,197.5 58.6,197.5 58.9,197.5 59.1,197.4 59.4,197.6 59.6,197.5 59.9,197.6 60.1,197.5 60.4,197.6 60.6,197.5 60.9,197.6 61.1,197.6 61.4,197.6 61.6,197.5 61.9,197.4 62.1,197.3 62.4,197.2 62.6,197.2 62.9,197.1 63.1,196.8 63.4,197.1 63.6,197.0 63.9,197.0 64.2,197.2 64.4,197.4 64.7,197.3 64.9,197.4 65.2,197.4 65.4,197.4 65.7,197.6 65.9,197.7 66.2,197.8 66.4,197.8 66.7,197.7 66.9,197.4 67.2,197.3 67.4,197.3 67.7,197.2 67.9,197.1 68.2,196.9 68.4,196.8 68.7,196.6 68.9,196.5 69.2,196.1 69.4,196.0 69.7,195.7 69.9,195.3 70.2,194.9 70.4,194.6 70.7,194.1 70.9,193.5 71.2,192.5 71.4,191.3 71.7,190.0 71.9,188.0 72.2,185.8 72.4,183.2 72.7,182.4 72.9,189.7 73.2,193.6 73.4,195.3 73.7,196.2 73.9,196.9 74.2,197.2 74.4,197.4 74.7,197.6 74.9,197.5 75.2,197.6 75.4,197.6 75.7,197.8 75.9,198.0 76.2,198.0 76.4,198.0 76.7,198.0 76.9,197.7 77.2,197.6 77.4,197.7 77.7,197.7 77.9,197.8 78.2,197.8 78.4,197.7 78.7,197.6 78.9,197.5 79.2,197.3 79.4,197.3 79.7,197.3 79.9,197.3 80.2,197.4 80.4,197.4 80.7,197.5 80.9,197.7 81.2,197.8 81.4,197.8 81.7,198.0 81.9,198.0 82.2,197.9 82.4,198.0 82.7,198.0 82.9,197.9 83.2,197.8 83.4,197.8 83.7,197.7 83.9,197.7 84.2,197.7 84.4,197.9 84.7,197.8 84.9,197.8 85.2,197.9 85.4,198.0 85.7,197.8 85.9,197.7 86.2,197.7 86.4,197.6 86.7,197.4 86.9,197.3 87.2,197.5 87.4,197.4 87.7,197.4 87.9,197.3 88.2,197.3 88.4,197.2 88.7,197.2 88.9,197.2 89.2,197.5 89.4,197.5 89.7,197.4 89.9,197.5 90.2,197.6 90.4,197.5 90.7,197.5 90.9,197.6 91.2,197.5 91.4,197.6 91.7,197.6 91.9,197.6 92.2,197.6 92.4,197.7 92.7,197.4 92.9,197.5 93.2,197.3 93.4,197.4 93.7,197.5 93.9,197.6 94.2,197.5 94.4,197.5 94.7,197.6 94.9,197.3 95.2,197.2 95.4,197.3 95.7,197.4 95.9,197.4 96.2,197.6 96.4,197.8 96.7,197.7 96.9,197.7 97.2,197.3 97.4,197.4 97.7,197.3 97.9,197.1 98.2,197.0 98.4,197.2 98.7,197.1 98.9,197.0 99.2,197.1 99.4,197.1 99.7,197.0 99.9,197.0 100.2,196.9 100.4,196.7 100.7,196.3 100.9,196.0 101.2,195.5 101.4,195.0 101.7,194.4 101.9,194.0 102.2,193.0 102.4,191.9 102.7,190.2 102.9,187.9 103.2,191.1 103.4,193.3 103.7,194.6 103.9,195.3 104.2,195.8 104.4,196.3 104.7,196.6 104.9,196.7 105.2,196.8 105.4,197.0 105.7,197.2 105.9,197.2 106.2,197.3 106.4,197.5 106.7,197.3 106.9,197.4 107.2,197.5 107.4,197.5 107.7,197.5 107.9,197.6 108.2,197.5 108.4,197.5 108.7,197.8 108.9,197.7 109.2,197.7 109.4,197.7 109.7,197.6 109.9,197.4 110.2,197.4 110.4,197.4 110.7,197.3 110.9,197.3 111.2,197.4 111.4,197.3 111.7,197.2 111.9,197.3 112.2,197.4 112.4,197.3 112.7,197.3 112.9,197.4 113.2,197.3 113.4,197.4 113.7,197.4 113.9,197.5 114.2,197.6 114.4,197.6 114.7,197.6 114.9,197.8 115.2,197.8 115.4,197.8 115.7,197.8 115.9,197.6 116.2,197.6 116.4,197.4 116.7,197.5 116.9,197.3 117.2,197.4 117.4,197.4 117.7,197.5 117.9,197.4 118.2,197.6 118.4,197.7 118.7,197.5 118.9,197.5 119.2,197.5 119.4,197.6 119.7,197.4 119.9,197.4 120.2,197.6 120.4,197.6 120.7,197.5 120.9,197.5 121.2,197.6 121.4,197.4 121.7,197.1 121.9,196.9 122.2,196.6 122.4,196.3 122.7,196.2 122.9,196.2 123.2,195.9 123.4,195.5 123.7,194.9 123.9,194.2 124.2,192.9 124.4,191.8 124.7,190.1 124.9,187.8 125.2,184.7 125.4,180.6 125.7,174.8 125.9,166.9 126.2,169.0 126.4,176.6 126.7,182.1 126.9,185.9 127.2,188.9 127.4,191.1 127.7,192.7 127.9,193.9 128.2,194.9 128.4,195.6 128.7,196.0 128.9,196.3 129.2,196.6 129.4,196.7 129.7,196.8 129.9,196.8 130.2,196.8 130.4,197.0 130.7,196.9 130.9,197.0 131.2,197.1 131.4,197.4 131.7,197.4 131.9,197.7 132.2,197.7 132.4,197.7 132.7,197.6 132.9,197.6 133.2,197.8 133.4,197.7 133.7,197.7 133.9,197.5 134.2,197.5 134.4,197.4 134.7,197.5 134.9,197.5 135.2,197.4 135.4,197.4 135.7,197.3 135.9,197.1 136.2,197.2 136.4,197.3 136.7,197.3 136.9,197.4 137.2,197.3 137.4,197.3 137.7,197.3 137.9,197.5 138.2,197.5 138.4,197.7 138.7,197.6 138.9,197.6 139.2,197.4 139.4,197.3 139.7,197.2 139.9,197.3 140.2,197.3 140.4,197.3 140.7,197.4 140.9,197.4 141.2,197.4 141.4,197.5 141.7,197.4 141.9,197.4 142.2,197.3 142.4,197.1 142.7,196.9 142.9,196.7 143.2,196.4 143.4,196.3 143.7,196.0 143.9,195.6 144.2,195.4 144.4,194.6 144.7,193.6 144.9,192.4 145.2,190.7 145.4,187.9 145.7,190.6 145.9,192.3 146.2,193.4 146.4,194.3 146.7,194.9 146.9,195.3 147.2,195.9 147.4,196.1 147.7,196.5 147.9,196.8 148.2,197.3 148.4,197.3 148.7,197.5 148.9,197.5 149.2,197.4 149.4,197.2 149.7,197.3 149.9,197.4 150.2,197.3 150.4,197.7 150.7,197.8 150.9,197.8 151.2,197.5 151.4,197.6 151.7,197.3 151.9,197.2 152.2,197.3 152.4,197.4 152.7,197.3 152.9,197.3 153.2,197.3 153.4,197.2 153.7,197.3 153.9,197.6 154.2,197.7 154.4,197.7 154.7,197.7 154.9,197.7 155.2,197.7 155.4,197.5 155.7,197.4 155.9,197.3 156.2,197.2 156.4,196.9 156.7,196.9 156.9,196.9 157.2,196.8 157.4,196.8 157.7,196.6 157.9,196.3 158.2,195.8 158.4,195.3 158.7,194.5 158.9,194.9 159.2,195.4 159.4,196.1 159.7,196.3 159.9,196.4 160.2,196.6 160.4,196.4 160.7,196.3 160.9,196.1 161.2,195.9 161.4,195.6 161.7,195.3 161.9,194.6 162.2,194.9 162.4,195.6 162.7,196.1 162.9,196.4 163.2,196.7 163.4,196.8 163.7,196.9 163.9,197.0 164.2,197.1 164.4,197.3 164.7,197.5 164.9,197.5 165.2,197.4 165.4,197.3 165.7,197.2 165.9,197.0 166.2,197.0 166.4,197.4 166.7,197.5 166.9,197.5 167.2,197.8 167.4,197.8 167.7,197.7 167.9,197.5 168.2,197.4 168.4,197.2 168.7,197.2 168.9,197.3 169.2,197.6 169.4,197.7 169.7,197.9 169.9,197.9 170.2,197.7 170.4,197.6 170.7,197.5 170.9,197.4 171.2,197.6 171.4,197.7 171.7,197.7 171.9,197.7 172.2,197.6 172.4,197.3 172.7,197.4 172.9,197.3 173.2,197.3 173.4,197.3 173.7,197.4 173.9,197.2 174.2,197.2 174.4,197.3 174.7,197.4 174.9,197.4 175.2,197.3 175.4,197.3 175.7,197.3 175.9,197.2 176.2,197.0 176.4,197.1 176.7,196.8 176.9,196.7 177.2,196.4 177.4,195.8 177.7,195.2 177.9,195.2 178.2,195.8 178.4,196.1 178.7,196.5 178.9,196.7 179.2,196.8 179.4,196.9 179.7,197.1 179.9,197.4 180.2,197.3 180.4,197.3 180.7,197.4 180.9,197.4 181.2,197.4 181.4,197.5 181.7,197.5 181.9,197.4 182.2,197.4 182.4,197.3 182.7,197.3 182.9,197.4 183.2,197.4 183.4,197.2 183.7,197.2 183.9,197.3 184.2,197.2 184.4,197.3 184.7,197.4 184.9,197.6 185.2,197.3 185.4,197.4 185.7,197.3 185.9,197.3 186.2,197.2 186.4,197.2 186.7,197.1 186.9,197.1 187.2,196.9 187.4,196.7 187.7,196.5 187.9,196.1 188.2,195.9 188.4,195.3 188.7,194.9 188.9,194.1 189.2,193.2 189.4,191.5 189.7,192.0 189.9,193.5 190.2,194.5 190.4,195.0 190.7,195.4 190.9,195.9 191.2,196.3 191.4,196.8 191.7,197.1 191.9,197.5 192.2,197.5 192.4,197.7 192.7,197.4 192.9,197.4 193.2,197.4 193.4,197.5 193.7,197.3 193.9,197.3 194.2,197.4 194.4,197.2 194.7,197.2 194.9,197.2 195.2,197.3 195.4,197.4 195.7,197.4 195.9,197.6 196.2,197.6 196.4,197.7 196.7,197.5 196.9,197.5 197.2,197.5 197.4,197.5 197.7,197.4 197.9,197.4 198.2,197.4 198.4,197.3 198.7,197.4 198.9,197.5 199.2,197.5 199.4,197.4 199.7,197.5 199.9,197.4 200.2,197.2 200.4,197.1 200.7,197.1 200.9,196.9 201.2,196.9 201.4,196.8 201.7,196.8 201.9,197.0 202.2,196.9 202.4,196.8 202.7,196.8 202.9,196.8 203.2,196.5 203.4,196.4 203.7,196.1 203.9,195.9 204.2,195.4 204.4,195.0 204.7,194.5 204.9,193.6 205.2,192.6 205.4,191.2 205.7,189.0 205.9,186.0 206.2,189.0 206.4,191.1 206.7,192.5 206.9,193.7 207.2,194.5 207.4,195.2 207.7,195.6 207.9,196.1 208.2,196.3 208.4,196.5 208.7,196.5 208.9,196.8 209.2,196.8 209.4,196.9 209.7,197.0 209.9,197.1 210.2,197.0 210.4,197.2 210.7,197.2 210.9,197.3 211.2,197.1 211.4,197.0 211.7,197.0 211.9,197.0 212.2,197.0 212.4,197.2 212.7,197.1 212.9,197.3 213.2,197.2 213.4,197.3 213.7,197.4 213.9,197.6 214.2,197.6 214.4,197.6 214.7,197.6 214.9,197.6 215.2,197.5 215.4,197.5 215.7,197.5 215.9,197.4 216.2,197.2 216.4,197.1 216.7,196.9 216.9,196.7 217.2,196.8 217.4,196.6 217.7,196.4 217.9,196.2 218.2,195.8 218.4,195.1 218.7,195.3 218.9,195.9 219.2,196.1 219.4,196.3 219.7,196.5 219.9,196.5 220.2,196.6 220.4,196.6 220.7,196.9 220.9,196.7 221.2,196.8 221.4,196.8 221.7,196.8 221.9,196.9 222.2,197.2 222.4,197.3 222.7,197.4 222.9,197.3 223.2,197.3 223.4,197.0 223.7,196.9 223.9,196.7 224.2,196.9 224.4,196.9 224.7,197.2 224.9,197.2 225.2,197.4 225.4,197.3 225.7,197.2 225.9,196.9 226.2,196.9 226.4,196.9 226.7,196.9 226.9,196.8 227.2,197.0 227.4,197.2 227.7,197.3 227.9,197.4 228.2,197.6 228.4,197.4 228.7,197.3 228.9,197.0 229.2,196.9 229.4,196.6 229.7,196.6 229.9,196.4 230.2,196.2 230.4,195.9 230.7,196.2 230.9,196.5 231.2,196.8 231.4,197.1 231.7,197.0 231.9,197.2 232.2,197.3 232.4,197.2 232.7,197.1 232.9,197.4 233.2,197.4 233.4,197.4 233.7,197.6 233.9,197.6 234.2,197.6 234.4,197.6 234.7,197.5 234.9,197.2 235.2,197.1 235.4,197.0 235.7,196.9 235.9,197.0 236.2,197.0 236.4,197.0 236.7,197.0 236.9,196.8 237.2,196.7 237.4,196.8 237.7,197.0 237.9,197.0 238.2,197.3 238.4,197.3 238.7,197.3 238.9,197.1 239.2,197.0 239.4,196.9 239.7,197.0 239.9,196.9 240.2,197.0 240.4,197.0 240.7,197.0 240.9,197.1 241.2,197.2 241.4,197.3 241.7,197.3 241.9,197.4 242.2,197.5 242.4,197.6 242.7,197.6 242.9,197.4 243.2,197.3 243.4,197.2 243.7,197.0 243.9,196.9 244.2,197.1 244.4,197.2 244.7,197.0 244.9,197.1 245.2,197.1 245.4,197.2 245.7,197.1 245.9,197.3 246.2,197.5 246.4,197.3 246.7,197.3 246.9,197.4 247.2,197.3 247.4,197.3 247.7,197.2 247.9,197.1 248.2,197.0 248.4,197.0 248.7,197.0 248.9,197.0 249.2,196.9 249.4,196.9 249.7,197.0 249.9,197.0 250.2,196.9 250.4,197.0 250.7,197.0 250.9,197.0 251.2,196.9 251.4,197.0 251.7,196.8 251.9,196.7 252.2,196.4 252.4,196.0 252.7,195.4 252.9,194.8 253.2,195.0 253.4,195.4 253.7,195.9 253.9,196.2 254.2,196.4 254.4,196.4 254.7,196.6 254.9,196.6 255.2,196.6 255.4,196.7 255.7,196.8 255.9,196.8 256.1,196.8 256.4,196.8 256.6,196.8 256.9,196.9 257.1,196.8 257.4,197.1 257.6,197.2 257.9,197.1 258.1,197.0 258.4,197.0 258.6,196.8 258.9,196.6 259.1,196.6 259.4,196.5 259.6,196.2 259.9,195.7 260.1,194.9 260.4,193.9 260.6,194.0 260.9,194.8 261.1,195.5 261.4,195.9 261.6,196.3 261.9,196.5 262.1,196.6 262.4,196.7 262.6,196.8 262.9,196.9 263.1,197.2 263.4,197.3 263.6,197.6 263.9,197.8 264.1,197.6 264.4,197.6 264.6,197.5 264.9,197.3 265.1,197.1 265.4,197.2 265.6,197.0 265.9,197.0 266.1,197.1 266.4,197.1 266.6,197.2 266.9,197.2 267.1,197.3 267.4,197.2 267.6,197.1 267.9,197.0 268.1,197.0 268.4,196.9 268.6,196.9 268.9,197.1 269.1,197.2 269.4,197.3 269.6,197.1 269.9,197.4 270.1,197.2 270.4,197.1 270.6,197.0 270.9,197.2 271.1,197.2 271.4,197.1 271.6,197.1 271.9,197.2 272.1,197.1 272.4,196.8 272.6,196.8 272.9,196.8 273.1,196.7 273.4,196.6 273.6,196.6 273.9,196.6 274.1,196.7 274.4,197.0 274.6,196.9 274.9,196.9 275.1,196.9 275.4,196.9 275.6,196.8 275.9,196.8 276.1,196.7 276.4,196.7 276.6,196.8 276.9,197.0 277.1,197.0 277.4,197.1 277.6,197.0 277.9,197.0 278.1,196.6 278.4,196.5 278.6,196.4 278.9,196.4 279.1,196.1 279.4,195.9 279.6,195.6 279.9,195.0 280.1,194.3 280.4,193.5 280.6,192.3 280.9,192.2 281.1,193.5 281.4,194.5 281.6,195.1 281.9,195.7 282.1,196.0 282.4,196.6 282.6,196.8 282.9,197.0 283.1,197.2 283.4,197.1 283.6,196.9 283.9,197.0 284.1,197.1 284.4,197.0 284.6,197.3 284.9,197.4 285.1,197.2 285.4,197.2 285.6,197.3 285.9,197.0 286.1,197.1 286.4,197.2 286.6,197.2 286.9,197.2 287.1,197.2 287.4,197.0 287.6,196.8 287.9,197.1 288.1,197.0 288.4,197.0 288.6,197.1 288.9,197.2 289.1,197.0 289.4,197.0 289.6,197.1 289.9,197.4 290.1,197.3 290.4,197.2 290.6,197.3 290.9,197.2 291.1,197.1 291.4,197.1 291.6,197.3 291.9,197.2 292.1,197.3 292.4,197.3 292.6,197.3 292.9,197.1 293.1,197.2 293.4,197.0 293.6,197.1 293.9,197.2 294.1,197.3 294.4,197.0 294.6,197.2 294.9,197.3 295.1,197.2 295.4,197.1 295.6,197.2 295.9,197.1 296.1,196.9 296.4,196.6 296.6,196.6 296.9,196.5 297.1,196.5 297.4,196.4 297.6,196.4 297.9,196.2 298.1,196.3 298.4,196.4 298.6,196.5 298.9,196.6 299.1,196.6 299.4,196.4 299.6,196.7 299.9,196.9 300.1,197.0 300.4,197.3 300.6,197.4 300.9,197.3 301.1,197.2 301.4,197.3 301.6,197.2 301.9,197.1 302.1,197.1 302.4,197.1 302.6,197.2 302.9,197.2 303.1,197.2 303.4,197.3 303.6,197.2 303.9,197.1 304.1,197.2 304.4,197.3 304.6,197.4 304.9,197.4 305.1,197.3 305.4,197.1 305.6,197.0 305.9,196.9 306.1,196.9 306.4,196.9 306.6,197.1 306.9,197.0 307.1,197.0 307.4,197.1 307.6,196.9 307.9,196.8 308.1,196.8 308.4,196.6 308.6,196.5 308.9,196.5 309.1,196.5 309.4,196.7 309.6,197.1 309.9,197.2 310.1,197.0 310.4,196.9 310.6,196.6 310.9,196.1 311.1,195.7 311.4,195.5 311.6,195.8 311.9,196.0 312.1,196.3 312.4,196.6 312.6,196.9 312.9,197.0 313.1,197.1 313.4,197.1 313.6,197.0 313.9,196.9 314.1,197.0 314.4,196.9 314.6,197.1 314.9,197.1 315.1,197.0 315.4,196.8 315.6,196.8 315.9,196.5 316.1,196.5 316.4,196.2 316.6,196.0 316.9,195.6 317.1,195.2 317.4,194.3 317.6,193.9 317.9,194.8 318.1,195.5 318.4,195.8 318.6,196.2 318.9,196.4 319.1,196.6 319.4,196.7 319.6,196.9 319.9,196.9 320.1,197.0 320.4,197.0 320.6,197.1 320.9,196.9 321.1,197.2 321.4,197.1 321.6,197.2 321.9,196.9 322.1,197.1 322.4,197.0 322.6,197.2 322.9,197.0 323.1,197.3 323.4,197.1 323.6,197.0 323.9,196.7 324.1,196.9 324.4,196.8 324.6,196.9 324.9,197.0" fill="none" stroke="#111" stroke-width="1.15" stroke-linejoin="round"/>
<text transform="translate(45.8,204.3) scale(0.945,1)" text-anchor="end" class="ta">0</text>
<text transform="translate(45.8,176.8) scale(0.945,1)" text-anchor="end" class="ta">500</text>
<text transform="translate(45.8,149.2) scale(0.945,1)" text-anchor="end" class="ta">1000</text>
<text transform="translate(45.8,121.7) scale(0.945,1)" text-anchor="end" class="ta">1500</text>
<text transform="translate(45.8,94.1) scale(0.945,1)" text-anchor="end" class="ta">2000</text>
<text transform="translate(45.8,66.6) scale(0.945,1)" text-anchor="end" class="ta">2500</text>
<text transform="translate(45.8,39.0) scale(0.945,1)" text-anchor="end" class="ta">3000</text>
<text transform="translate(45.8,11.5) scale(0.945,1)" text-anchor="end" class="ta">3500</text>
<text transform="translate(54.4,215.4) scale(0.945,1)" text-anchor="middle" class="ta">5</text>
<text transform="translate(108.5,215.4) scale(0.945,1)" text-anchor="middle" class="ta">10</text>
<text transform="translate(162.6,215.4) scale(0.945,1)" text-anchor="middle" class="ta">15</text>
<text transform="translate(216.7,215.4) scale(0.945,1)" text-anchor="middle" class="ta">20</text>
<text transform="translate(270.8,215.4) scale(0.945,1)" text-anchor="middle" class="ta">25</text>
<text transform="translate(324.9,215.4) scale(0.945,1)" text-anchor="middle" class="ta">30</text>
<text x="302.3" y="123.6" text-anchor="middle" class="tl">Cu(N)</text>
<text x="305" y="159.5" text-anchor="middle" class="tl">Cu(Cl)</text>
<text x="307.4" y="188.3" text-anchor="middle" class="tl">Cu(Ac)</text>
<text x="192.8" y="229.3" text-anchor="middle" class="sa">2 Theta (degree)</text>
<text transform="translate(19.6,94) rotate(-90) scale(1,0.88)" text-anchor="middle" class="sa" style="font-size:9.5px">Lin (Cps)</text>
<text x="173.3" y="246.8" text-anchor="middle" class="cap">(a)</text>
<rect x="416.0" y="85.2" width="22" height="87.8" fill="#1c4cf0"/>
<rect x="438.0" y="38.8" width="22.6" height="134.2" fill="#ccccff"/>
<text transform="translate(427.6,78.5) scale(0.72,1)" text-anchor="middle" class="tb">1190</text>
<text transform="translate(449.9,32.1) scale(0.72,1)" text-anchor="middle" class="tb">1818</text>
<text transform="translate(438.5,190) scale(0.81,1)" text-anchor="middle" class="tc">Cu(Ac)</text>
<rect x="497.2" y="76.7" width="22" height="96.3" fill="#1c4cf0"/>
<rect x="519.2" y="28.6" width="22.6" height="144.4" fill="#ccccff"/>
<text transform="translate(508.8,70.0) scale(0.72,1)" text-anchor="middle" class="tb">1305</text>
<text transform="translate(531.1,21.9) scale(0.72,1)" text-anchor="middle" class="tb">1956</text>
<text transform="translate(519.7,190) scale(0.81,1)" text-anchor="middle" class="tc">Cu(N)</text>
<rect x="578.4" y="104.4" width="22" height="68.6" fill="#1c4cf0"/>
<rect x="600.4" y="72.0" width="22.6" height="101.0" fill="#ccccff"/>
<text transform="translate(590.0,97.7) scale(0.72,1)" text-anchor="middle" class="tb">930</text>
<text transform="translate(612.3,65.3) scale(0.72,1)" text-anchor="middle" class="tb">1368</text>
<text transform="translate(600.9,190) scale(0.81,1)" text-anchor="middle" class="tc">Cu(Cl)</text>
<path d="M397.5 25V173.5" stroke="#2a332a" stroke-width="1.3" fill="none"/>
<path d="M395 173H641" stroke="#6c706c" stroke-width="1.2" fill="none"/>
<path d="M394.2 173.0H397.4" stroke="#222" stroke-width="1"/>
<text transform="translate(390,176.8) scale(0.74,1)" text-anchor="end" class="tb">0</text>
<path d="M394.2 143.4H397.4" stroke="#222" stroke-width="1"/>
<text transform="translate(390,147.2) scale(0.74,1)" text-anchor="end" class="tb">400</text>
<path d="M394.2 113.9H397.4" stroke="#222" stroke-width="1"/>
<text transform="translate(390,117.7) scale(0.74,1)" text-anchor="end" class="tb">800</text>
<path d="M394.2 84.3H397.4" stroke="#222" stroke-width="1"/>
<text transform="translate(390,88.1) scale(0.74,1)" text-anchor="end" class="tb">1200</text>
<path d="M394.2 54.8H397.4" stroke="#222" stroke-width="1"/>
<text transform="translate(390,58.6) scale(0.74,1)" text-anchor="end" class="tb">1600</text>
<path d="M394.2 25.2H397.4" stroke="#222" stroke-width="1"/>
<text transform="translate(390,29.1) scale(0.74,1)" text-anchor="end" class="tb">2000</text>
<path d="M397.4 173.5V176" stroke="#999" stroke-width="1"/>
<path d="M478.6 173.5V176" stroke="#999" stroke-width="1"/>
<path d="M559.8 173.5V176" stroke="#999" stroke-width="1"/>
<path d="M641.0 173.5V176" stroke="#999" stroke-width="1"/>
<text transform="translate(463,203.7) scale(0.845,1)" class="td">Different copper (II) salt</text>
<rect x="456.8" y="217.8" width="5" height="5" fill="#1c4cf0"/>
<text transform="translate(463.7,223.5) scale(0.845,1)" class="td">S BET</text>
<rect x="516.8" y="217.8" width="5" height="5" fill="#ccccff"/>
<text transform="translate(523.9,223.5) scale(0.845,1)" class="td">S Langmuir</text>
<text transform="translate(358.2,80.5) rotate(-90) scale(1,0.87)" text-anchor="middle" class="te">Surface areas (m<tspan dy="-3.5" font-size="6.5">2</tspan><tspan dy="3.5">/g)</tspan></text>
<text x="494.8" y="241" text-anchor="middle" class="cap">(b)</text>
</svg>
</body></html>
